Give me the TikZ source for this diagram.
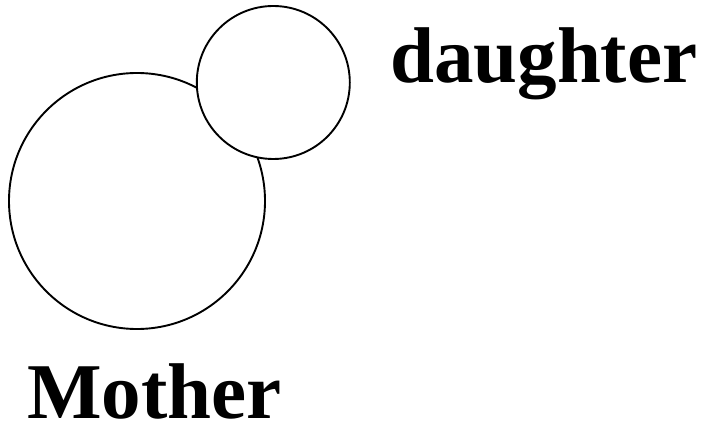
\documentclass[tikz,border=0pt]{standalone}
\usepackage{fontspec}
\setmainfont{Liberation Serif}
\begin{document}
\begin{tikzpicture}[x=1pt,y=-1pt,
  cell/.style={circle,draw=black,line width=1.9pt,inner sep=0pt},
  lbl/.style={inner sep=0pt,anchor=base west,font=\fontsize{79}{90}\selectfont\bfseries}]
\useasboundingbox (0,0) rectangle (704,422);
\node[cell,minimum size=256pt] (mother) at (137,201) {};
\node[cell,fill=white,minimum size=153pt] (daughter) at (273.3,82.5) {};
\node[lbl] (dlabel) at (390,83) {daughter};
\node[lbl] (mlabel) at (27,418) {Mother};
\end{tikzpicture}
\end{document}
